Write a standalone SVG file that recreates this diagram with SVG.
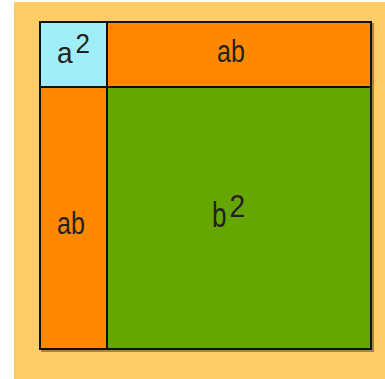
<svg xmlns="http://www.w3.org/2000/svg" width="385" height="379" viewBox="0 0 385 379">
<style>
.cell{stroke:#111;stroke-width:2}
.t{font-family:"Liberation Sans",Arial,sans-serif;fill:#222}
</style>
<rect x="0" y="0" width="385" height="379" fill="#fff"/>
<rect x="14" y="2" width="371" height="377" fill="#FFCC66"/>
<rect x="42" y="24" width="331" height="327" fill="none" stroke="#000" stroke-opacity="0.35" stroke-width="2"/>
<g id="a2">
<rect class="cell" x="40" y="22" width="67" height="65" fill="#A0EEF8"/>
<text class="t" font-size="28" transform="translate(57,63) scale(1,1.05)">a</text>
<text class="t" font-size="26" transform="translate(75.5,53) scale(1,1.05)">2</text>
</g>
<g id="ab-top">
<rect class="cell" x="107" y="22" width="264" height="65" fill="#FF8800"/>
<text class="t" font-size="25" text-anchor="middle" transform="translate(231,61.5) scale(1,1.25)">ab</text>
</g>
<g id="ab-left">
<rect class="cell" x="40" y="87" width="67" height="262" fill="#FF8800"/>
<text class="t" font-size="25" text-anchor="middle" transform="translate(71,234) scale(1,1.25)">ab</text>
</g>
<g id="b2">
<rect class="cell" x="107" y="87" width="264" height="262" fill="#66A600"/>
<text class="t" font-size="26" transform="translate(212,227) scale(1,1.35)">b</text>
<text class="t" font-size="28" transform="translate(229.5,217) scale(1,1.15)">2</text>
</g>
</svg>
